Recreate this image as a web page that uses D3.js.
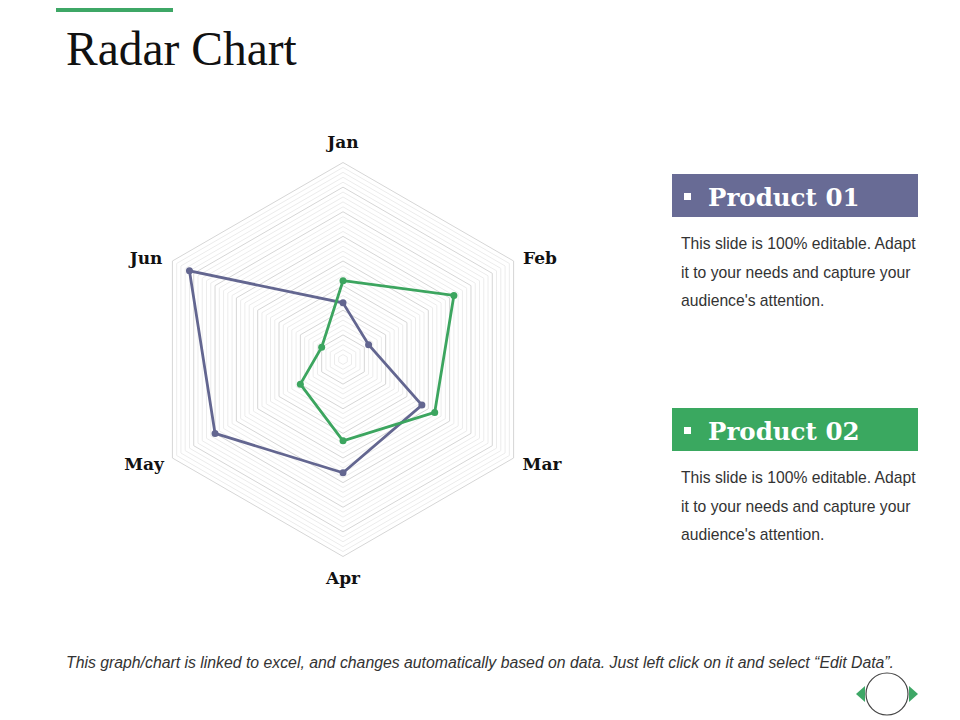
<!DOCTYPE html>
<html>
<head>
<meta charset="utf-8">
<script src="https://cdn.jsdelivr.net/npm/d3@7"></script>
<style>
  body { margin: 0; background: #fff; }
  svg { display: block; }
</style>
</head>
<body>
<svg id="chart" width="960" height="720"></svg>
<script>
// chart data
var months = ["Jan", "Feb", "Mar", "Apr", "May", "Jun"];
var product01 = [23, 12, 37, 46, 60, 72];
var product02 = [32, 52, 43, 33, 20, 10];
var seriesNames = ["Product 01", "Product 02"];
var maxValue = 80;
var majorStep = 10, minorStep = 2;

var purple = "#636690", green = "#3ca55f";

var svg = d3.select("#chart");

// header
svg.append("rect").attr("x", 56).attr("y", 8).attr("width", 117).attr("height", 4).attr("fill", "#3ea766");
svg.append("text").attr("x", 66).attr("y", 65)
  .attr("font-family", "Liberation Serif, serif").attr("font-size", 47.5).attr("fill", "#111")
  .text("Radar Chart");

// radar
var cx = 343, cy = 359.5, radius = 197;
var r = d3.scaleLinear().domain([0, maxValue]).range([0, radius]);
var angle = d3.scalePoint().domain(months.concat("_")).range([0, 2 * Math.PI]);

function pt(m, v) {
  var a = angle(m);
  return [r(v) * Math.sin(a), -r(v) * Math.cos(a)];
}

var g = svg.append("g").attr("transform", "translate(" + cx + "," + cy + ")");

// grid rings
var levels = d3.range(minorStep, maxValue + 0.001, minorStep);
g.selectAll(".ring").data(levels).enter().append("polygon")
  .attr("points", function(l) { return months.map(function(m) { return pt(m, l).join(","); }).join(" "); })
  .attr("fill", "none")
  .attr("stroke", function(l) { return l % majorStep === 0 ? "#d6d6d6" : "#ececec"; })
  .attr("stroke-width", 1);

// axis labels
var labelOffset = { Jan: [0, -217], Feb: [197, -101], Mar: [199, 105], Apr: [0, 219], May: [-199, 105], Jun: [-197, -101] };
g.selectAll(".lbl").data(months).enter().append("text")
  .attr("x", function(m) { return labelOffset[m][0]; })
  .attr("y", function(m) { return labelOffset[m][1] + 5; })
  .attr("text-anchor", "middle")
  .attr("font-family", "DejaVu Serif, serif").attr("font-weight", "bold")
  .attr("font-size", 17).attr("fill", "#111")
  .text(function(m) { return m; });

// series
var line = d3.lineRadial().angle(function(d) { return angle(d.m); }).radius(function(d) { return r(d.v); }).curve(d3.curveLinearClosed);
[[product01, purple], [product02, green]].forEach(function(s) {
  var data = months.map(function(m, i) { return { m: m, v: s[0][i] }; });
  g.append("path").datum(data).attr("d", line).attr("fill", "none").attr("stroke", s[1]).attr("stroke-width", 2.8);
  g.selectAll(null).data(data).enter().append("circle")
    .attr("cx", function(d) { return pt(d.m, d.v)[0]; })
    .attr("cy", function(d) { return pt(d.m, d.v)[1]; })
    .attr("r", 3.5).attr("fill", s[1]);
});

// legend panels
var panels = [{ name: seriesNames[0], color: "#686b95", y: 174 }, { name: seriesNames[1], color: "#3aa860", y: 408 }];
var body = ["This slide is 100% editable. Adapt", "it to your needs and capture your", "audience's attention."];
panels.forEach(function(p) {
  svg.append("rect").attr("x", 672).attr("y", p.y).attr("width", 246).attr("height", 43).attr("fill", p.color);
  svg.append("rect").attr("x", 684).attr("y", p.y + 19).attr("width", 7).attr("height", 7).attr("fill", "#fff");
  svg.append("text").attr("x", 708).attr("y", p.y + 32)
    .attr("font-family", "DejaVu Serif, serif").attr("font-weight", "bold").attr("font-size", 24.5).attr("fill", "#fff")
    .text(p.name);
  body.forEach(function(t, i) {
    svg.append("text").attr("x", 681).attr("y", p.y + 75 + i * 28.5)
      .attr("font-family", "Liberation Sans, Arial, sans-serif").attr("font-size", 15.7).attr("fill", "#333")
      .text(t);
  });
});

// footer
svg.append("text").attr("x", 480).attr("y", 668).attr("text-anchor", "middle")
  .attr("font-family", "Liberation Sans, Arial, sans-serif").attr("font-style", "italic").attr("font-size", 15.8).attr("fill", "#333")
  .text("This graph/chart is linked to excel, and changes automatically based on data. Just left click on it and select \u201cEdit Data\u201d.");

// nav
svg.append("circle").attr("cx", 887).attr("cy", 694).attr("r", 21).attr("fill", "#fff").attr("stroke", "#444").attr("stroke-width", 1.2);
svg.append("path").attr("d", "M856,694 L865,686 L865,702 Z").attr("fill", "#3ea766");
svg.append("path").attr("d", "M918,694 L909,686 L909,702 Z").attr("fill", "#3ea766");
</script>
</body>
</html>
